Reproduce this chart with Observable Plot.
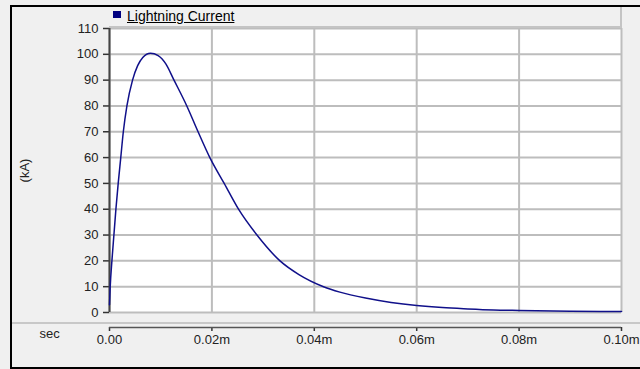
<!DOCTYPE html>
<html>
<head>
<meta charset="utf-8">
<script src="https://cdn.jsdelivr.net/npm/d3@7"></script>
<script src="https://cdn.jsdelivr.net/npm/@observablehq/plot@0.6"></script>
<style>
  html, body { margin: 0; padding: 0; background: #f0f0f0; }
  #wrap { position: relative; width: 640px; height: 369px; overflow: hidden; background: #f0f0f0; font-family: "Liberation Sans", Arial, sans-serif; }
  #wrap svg { position: absolute; left: 0; top: 0; }
  .border { position: absolute; left: 10px; top: 5px; width: 640px; height: 360px; border-top: 2px solid #000; border-left: 2px solid #000; border-bottom: 2px solid #000; pointer-events: none; }
  .sep { position: absolute; left: 12px; top: 322px; width: 628px; height: 2px; background: #c8c8c8; }
  .legend { position: absolute; left: 109px; top: 7px; width: 511px; height: 19px; border-bottom: 2px solid #c4c4c4; border-right: 2px solid #c4c4c4; background: #f0f0f0; }
  .legend .sw { position: absolute; left: 4px; top: 4px; width: 8px; height: 7px; background: #000080; }
  .legend .lbl { position: absolute; left: 18px; top: 1px; font-size: 14px; color: #000; text-decoration: underline; white-space: nowrap; }
</style>
</head>
<body>
<div id="wrap">
  <div class="sep"></div>
  <div class="border"></div>
</div>
<script>
// Time in (milli)seconds as labelled on the axis ("0.02m" etc.) and current in kA
const seriesName = "Lightning Current";
const timeValues = [0, 0.00014, 0.00047, 0.00086, 0.00125, 0.0017, 0.0022, 0.0027, 0.0034, 0.0045, 0.0055, 0.0065, 0.008, 0.0095, 0.011, 0.0126, 0.0151, 0.0173, 0.0196, 0.0224, 0.0252, 0.0288, 0.0333, 0.037, 0.0418, 0.045, 0.05, 0.055, 0.06, 0.065, 0.07, 0.075, 0.08, 0.09, 0.1];
const currentValues = [3, 10, 20, 30, 40, 50, 60, 70, 80, 90, 95.6, 98.8, 100.4, 99.5, 96.3, 90, 80, 70, 60, 50, 40, 30, 20, 14.7, 10, 7.9, 5.6, 3.9, 2.7, 1.9, 1.4, 1.0, 0.8, 0.5, 0.4];
const xTicks = [0, 0.02, 0.04, 0.06, 0.08, 0.1];
const yTicks = [0, 10, 20, 30, 40, 50, 60, 70, 80, 90, 100, 110];
const xAxisLabel = "sec";
const yAxisLabel = "(kA)";

const data = timeValues.map((t, i) => ({t, v: currentValues[i]}));
const fmtX = d => d === 0 ? "0.00" : d.toFixed(2) + "m";

const plot = Plot.plot({
  width: 640,
  height: 369,
  marginLeft: 109,
  marginRight: 19,
  marginTop: 28,
  marginBottom: 57,
  style: {background: "transparent", fontFamily: "'Liberation Sans', Arial, sans-serif", fontSize: "13px", color: "#222"},
  x: {domain: [0, 0.1]},
  y: {domain: [0, 110]},
  marks: [
    Plot.frame({fill: "white", stroke: null}),
    Plot.gridX(xTicks, {stroke: "#bdbdbd", strokeOpacity: 1, strokeWidth: 2}),
    Plot.gridY(yTicks, {stroke: "#bdbdbd", strokeOpacity: 1, strokeWidth: 2}),
    Plot.axisY(yTicks, {anchor: "left", tickSize: 6, tickPadding: 5, stroke: "#333", strokeWidth: 1.5, fill: "#222",
      label: yAxisLabel, labelAnchor: "center", labelArrow: "none", labelOffset: 90}),
    Plot.ruleX([0], {stroke: "#444", strokeWidth: 2}),
    Plot.axisX(xTicks, {anchor: "bottom", dy: 15, tickSize: 4, tickPadding: 3, tickFormat: fmtX, stroke: "#333", strokeWidth: 1.5, fill: "#222", label: null}),
    Plot.ruleY([0], {dy: 15, stroke: "#555", strokeWidth: 1.5}),
    Plot.text([xAxisLabel], {frameAnchor: "bottom-left", dx: -70, dy: 25, text: d => d, fill: "#222", fontSize: 13}),
    Plot.line(data, {x: "t", y: "v", stroke: "#10108a", strokeWidth: 1.5, curve: "monotone-x"})
  ]
});

const wrap = document.getElementById("wrap");
wrap.insertBefore(plot, wrap.firstChild);

const legend = document.createElement("div");
legend.className = "legend";
legend.innerHTML = '<div class="sw"></div><div class="lbl"></div>';
legend.querySelector(".lbl").textContent = seriesName;
wrap.appendChild(legend);
</script>
</body>
</html>
